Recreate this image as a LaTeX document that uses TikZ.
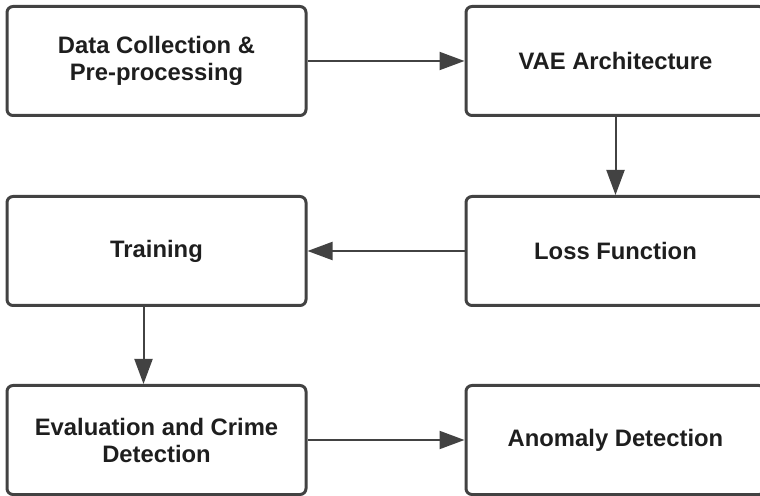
\documentclass[tikz,border=0pt]{standalone}
\usepackage{fontspec}
\setmainfont{Liberation Sans}
\usetikzlibrary{arrows.meta}

\definecolor{boxgrey}{HTML}{424242}
\definecolor{textgrey}{HTML}{1E1E1E}

\begin{document}
\begin{tikzpicture}[x=0.5pt, y=-0.5pt]

        % Looks of the stage boxes and of the arrows between them
        \tikzset{
            stage/.style={draw=boxgrey, line width=1.5pt, rounded corners=3pt,
                minimum width=149.5pt, minimum height=54.5pt, inner sep=0pt,
                align=center, text=textgrey,
                font=\bfseries\fontsize{11.9}{13.5}\selectfont},
            flow/.style={draw=boxgrey, line width=1pt,
                -{Triangle[length=12.5pt, width=9pt]}}
        }

        % Page frame, the right column runs off the edge
        \clip (0, 0) rectangle (760, 496);

        % Left column
        \node[stage] (collect) at (156.5, 61) {Data Collection \&\\Pre-processing};
        \node[stage] (train) at (156.5, 251) {Training};
        \node[stage] (eval) at (156.5, 440) {Evaluation and Crime\\Detection};

        % Right column
        \node[stage] (vae) at (615.5, 61) {VAE Architecture};
        \node[stage] (loss) at (615.5, 251) {Loss Function};
        \node[stage] (anomaly) at (615.5, 440) {Anomaly Detection};

        \begin{scope}[flow]
            \draw (collect) -- (vae);
            \draw (vae) -- (loss);
            \draw (loss) -- (train);
            % this one sits a bit left of the middle
            \draw ([xshift=-6.5pt]train.south) -- ([xshift=-6.5pt]eval.north);
            \draw (eval) -- (anomaly);
        \end{scope}

\end{tikzpicture}
\end{document}
